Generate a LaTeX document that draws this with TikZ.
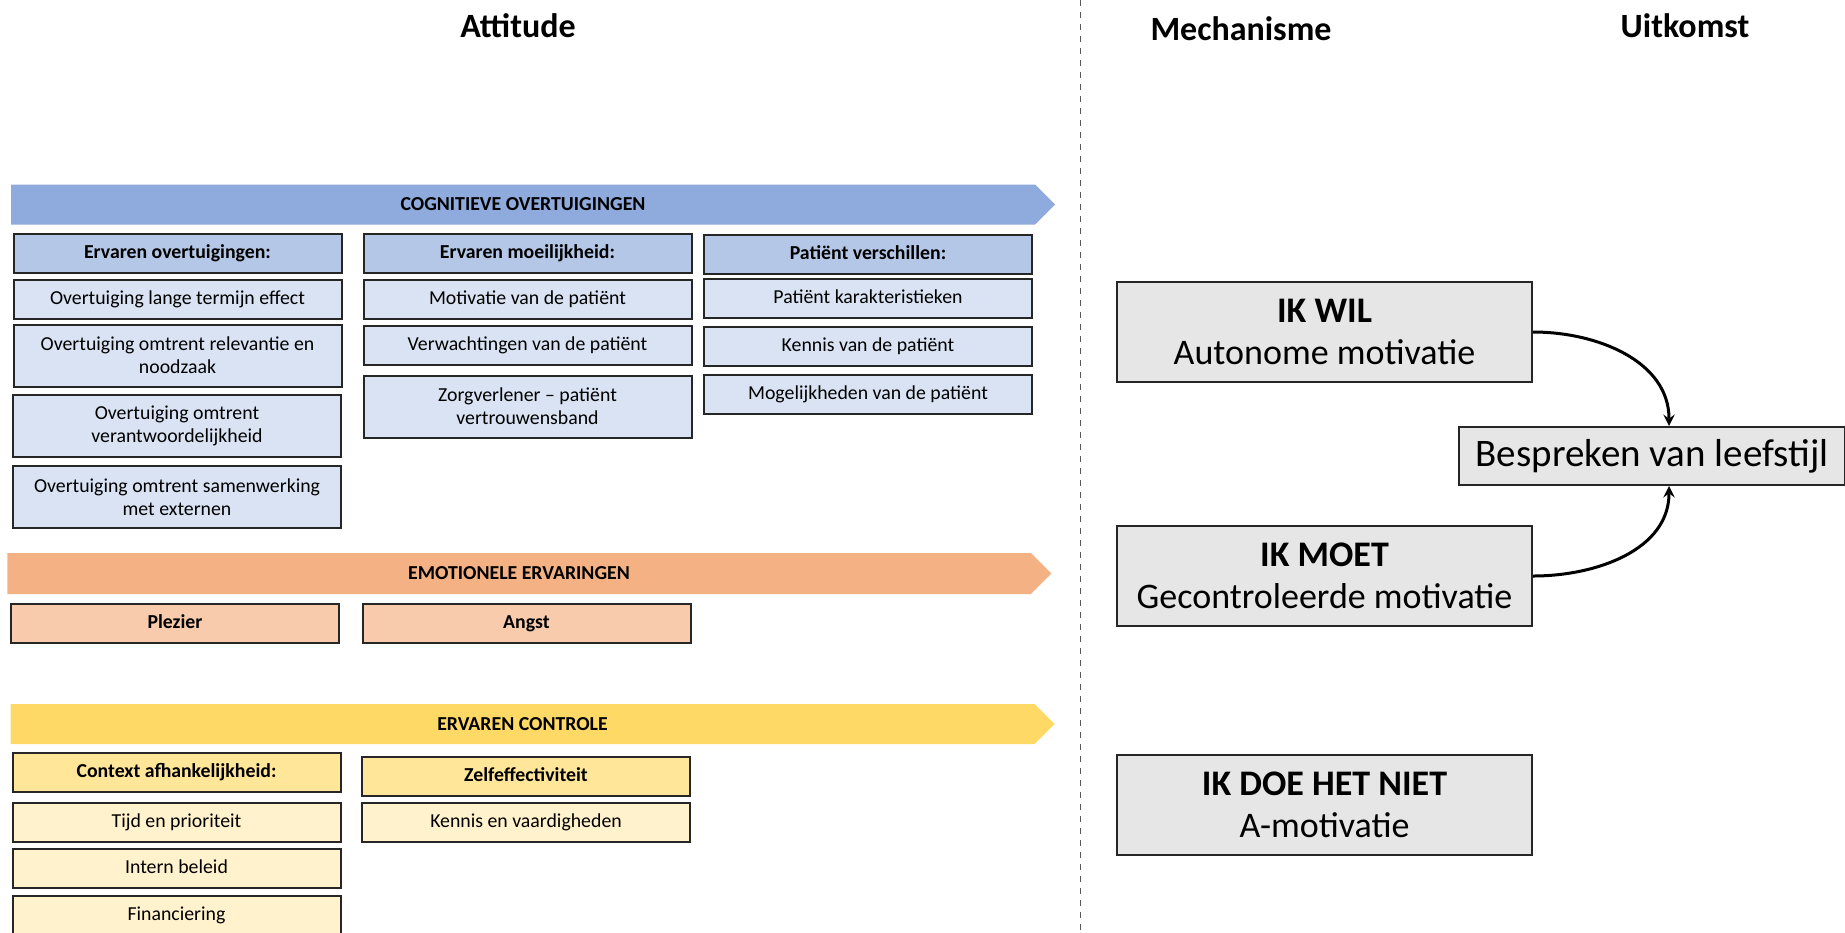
\documentclass[tikz,border=0pt]{standalone}
\usepackage{fontspec}
\setmainfont{Carlito}
\usetikzlibrary{shapes.symbols}

\definecolor{cogband}{HTML}{8FAADC}
\definecolor{coghead}{HTML}{B4C7E7}
\definecolor{cogitem}{HTML}{DAE3F3}
\definecolor{emoband}{HTML}{F4B183}
\definecolor{emoitem}{HTML}{F8CBAD}
\definecolor{ctlband}{HTML}{FFD966}
\definecolor{ctlhead}{HTML}{FFE699}
\definecolor{ctlitem}{HTML}{FFF2CC}
\definecolor{mechgray}{HTML}{E7E6E6}

\tikzset{
    title/.style={font=\fontsize{17}{20}\selectfont\bfseries},
    band/.style={signal, signal to=east, signal pointer angle=90, minimum width=522pt, minimum height=20pt, inner sep=0pt, font=\fontsize{9.9}{11}\selectfont\bfseries},
    cell/.style={draw=black!85, line width=1pt, align=center, inner sep=2pt, minimum width=164pt, font=\fontsize{9.9}{11.5}\selectfont},
    box/.style={cell, minimum height=19.5pt, text height=7pt, text depth=2pt},
    tallbox/.style={cell, minimum height=31pt},
    head/.style={box, font=\fontsize{9.9}{11.5}\selectfont\bfseries},
    mechbox/.style={draw=black!85, line width=1pt, fill=mechgray, align=center, minimum width=207.5pt, minimum height=50pt, font=\fontsize{18}{21}\selectfont}
}

\begin{document}
\begin{tikzpicture}[x=0.5pt, y=-0.5pt]
    \useasboundingbox (0,0) rectangle (1845,932);

    \node[title] at (518,26) (att) {Attitude};
    \node[title] at (1241,29) (mech) {Mechanisme};
    \node[title] at (1685,26) (uit) {Uitkomst};

    \coordinate (sepTop) at (1080,0);
    \coordinate (sepBot) at (1080,932);
    \draw[dashed, black!65, line width = 0.5] (sepTop) -- (sepBot);

    % cognitieve overtuigingen
    \node[band, fill=cogband] at (523,204.5) (cog) {COGNITIEVE OVERTUIGINGEN};

    \node[head, fill=coghead] at (177.5,253.5) (h1) {Ervaren overtuigingen:};
    \node[box, fill=cogitem] at (177.5,299.5) (o1) {Overtuiging lange termijn effect};
    \node[tallbox, fill=cogitem] at (177.5,355.5) (o2) {Overtuiging omtrent relevantie en\\noodzaak};
    \node[tallbox, fill=cogitem] at (177,425.5) (o3) {Overtuiging omtrent\\verantwoordelijkheid};
    \node[tallbox, fill=cogitem] at (177,497) (o4) {Overtuiging omtrent samenwerking\\met externen};

    \node[head, fill=coghead] at (527.5,253.5) (h2) {Ervaren moeilijkheid:};
    \node[box, fill=cogitem] at (527.5,299.5) (m1) {Motivatie van de patiënt};
    \node[box, fill=cogitem] at (527.5,345.5) (m2) {Verwachtingen van de patiënt};
    \node[tallbox, fill=cogitem] at (527.5,406.5) (m3) {Zorgverlener – patiënt\\vertrouwensband};

    \node[head, fill=coghead] at (868,254.5) (h3) {Patiënt verschillen:};
    \node[box, fill=cogitem] at (868,298.5) (p1) {Patiënt karakteristieken};
    \node[box, fill=cogitem] at (868,346.5) (p2) {Kennis van de patiënt};
    \node[box, fill=cogitem] at (868,394.5) (p3) {Mogelijkheden van de patiënt};

    % emotionele ervaringen
    \node[band, fill=emoband, minimum height=20.5pt] at (519,573.5) (emo) {EMOTIONELE ERVARINGEN};
    \node[head, fill=emoitem] at (175,623) (e1) {Plezier};
    \node[head, fill=emoitem] at (526.5,623) (e2) {Angst};

    % ervaren controle
    \node[band, fill=ctlband] at (522.5,724) (ctl) {ERVAREN CONTROLE};
    \node[head, fill=ctlhead] at (176.5,772.5) (c1) {Context afhankelijkheid:};
    \node[head, fill=ctlhead] at (526,776) (c2) {Zelfeffectiviteit};
    \node[box, fill=ctlitem] at (176.5,822) (c3) {Tijd en prioriteit};
    \node[box, fill=ctlitem] at (526,822) (c4) {Kennis en vaardigheden};
    \node[box, fill=ctlitem] at (176.5,868) (c5) {Intern beleid};
    \node[box, fill=ctlitem] at (176.5,915) (c6) {Financiering};

    % mechanisme en uitkomst
    \node[mechbox] at (1324.5,332) (wil) {\textbf{IK WIL}\\Autonome motivatie};
    \node[mechbox] at (1324.5,576) (moet) {\textbf{IK MOET}\\Gecontroleerde motivatie};
    \node[mechbox] at (1324.5,805) (niet) {\textbf{IK DOE HET NIET}\\A-motivatie};

    \node[mechbox, minimum width=193pt, minimum height=29pt, font=\fontsize{19.5}{22}\selectfont] at (1652,456) (besp) {Bespreken van leefstijl};

    \draw[-stealth, line width = 1.5] (wil.east) to[out=0, in=90] ([xshift=8.5pt]besp.north);
    \draw[-stealth, line width = 1.5] (moet.east) to[out=0, in=-90] ([xshift=8.5pt]besp.south);
\end{tikzpicture}
\end{document}
